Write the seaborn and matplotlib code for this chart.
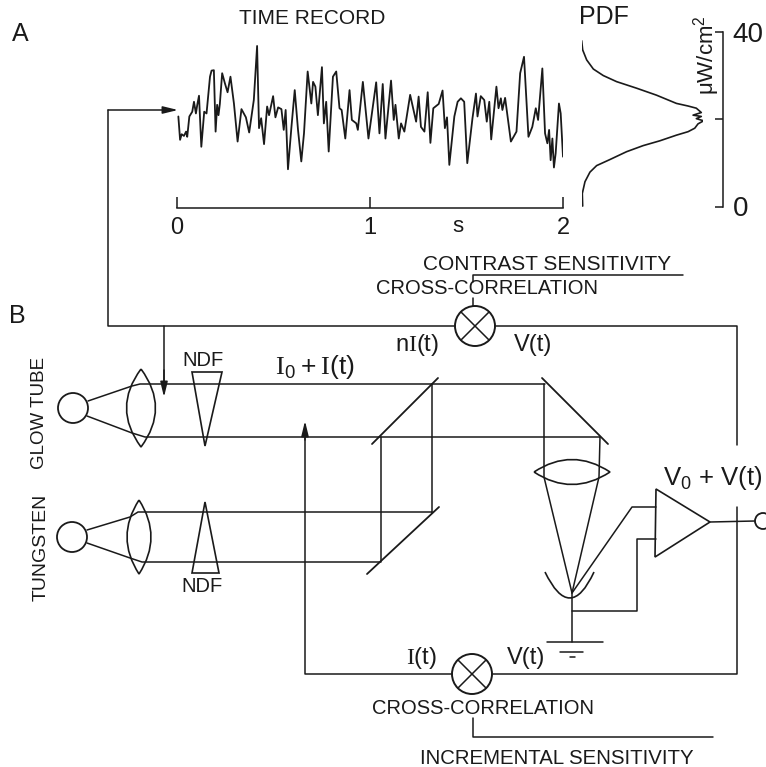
import matplotlib
matplotlib.use("Agg")
import matplotlib.pyplot as plt
import seaborn as sns
from matplotlib.patches import Circle, PathPatch, Polygon
from matplotlib.path import Path

# time record, seconds / uW per cm2
time_s = [0.007, 0.016, 0.024, 0.036, 0.047, 0.053, 0.064, 0.079, 0.088, 0.098, 0.105, 0.114, 0.126, 0.141, 0.153,
          0.171, 0.179, 0.191, 0.200, 0.208, 0.215, 0.222, 0.234, 0.248, 0.262, 0.277, 0.295, 0.314, 0.334, 0.357,
          0.374, 0.398, 0.415, 0.425, 0.436, 0.451, 0.467, 0.477, 0.498, 0.510, 0.524, 0.541, 0.553, 0.563, 0.575,
          0.593, 0.610, 0.627, 0.644, 0.658, 0.677, 0.696, 0.705, 0.717, 0.730, 0.751, 0.761, 0.773, 0.786, 0.808,
          0.825, 0.842, 0.853, 0.872, 0.894, 0.906, 0.929, 0.937, 0.963, 0.992, 1.032, 1.049, 1.066, 1.080, 1.109,
          1.123, 1.132, 1.149, 1.161, 1.178, 1.208, 1.239, 1.252, 1.264, 1.282, 1.299, 1.313, 1.328, 1.356, 1.376,
          1.388, 1.399, 1.411, 1.437, 1.454, 1.471, 1.488, 1.504, 1.531, 1.549, 1.557, 1.574, 1.592, 1.605, 1.618,
          1.628, 1.655, 1.666, 1.678, 1.686, 1.700, 1.730, 1.759, 1.778, 1.798, 1.821, 1.841, 1.859, 1.871, 1.893,
          1.907, 1.919, 1.928, 1.936, 1.945, 1.953, 1.962, 1.979, 1.988, 2.000]
level = [20.7, 15.3, 16.6, 16.2, 17.2, 16.0, 20.7, 21.8, 24.1, 21.4, 23.4, 25.5, 13.7, 21.8, 21.4,
         29.9, 31.3, 31.4, 17.2, 23.4, 21.0, 23.6, 30.7, 28.4, 26.3, 29.9, 23.7, 14.9, 22.4, 20.5,
         17.0, 24.5, 37.0, 18.0, 20.3, 14.3, 23.0, 21.0, 25.4, 20.5, 22.8, 22.4, 17.6, 22.2, 8.5,
         18.3, 26.8, 17.6, 10.3, 16.8, 31.1, 23.7, 28.7, 27.6, 21.0, 32.1, 19.1, 24.1, 12.6, 29.9,
         31.1, 22.6, 22.2, 15.6, 26.8, 19.9, 19.1, 17.6, 28.7, 15.6, 28.6, 16.8, 28.2, 15.6, 29.0,
         19.9, 23.4, 15.6, 19.1, 17.2, 25.7, 19.5, 25.3, 18.3, 17.2, 26.3, 14.6, 22.6, 23.6, 26.7,
         18.0, 20.5, 9.5, 20.7, 24.1, 24.9, 24.1, 9.9, 20.3, 26.0, 20.7, 25.4, 24.5, 19.5, 24.1,
         15.4, 27.6, 22.6, 24.9, 22.2, 25.0, 14.9, 17.2, 30.7, 34.5, 16.0, 18.3, 22.6, 19.9, 31.8,
         16.8, 14.5, 17.6, 10.6, 15.6, 8.9, 12.2, 23.7, 21.4, 11.4]

# probability density of the same record (sideways)
pdf_density = [0, 0.008, 0.041, 0.096, 0.178, 0.288, 0.452, 0.616, 0.781, 0.877, 0.945, 0.986, 0.918, 0.986, 0.945,
               1.005, 0.959, 0.932, 0.877, 0.781, 0.644, 0.507, 0.370, 0.233, 0.123, 0.068, 0.027, 0.005, 0.008]
pdf_level = [38.1, 36.0, 33.7, 31.6, 30.1, 28.7, 27.2, 25.6, 23.7, 23.1, 22.6, 21.6, 21.0, 20.7, 20.2,
             19.7, 19.0, 18.0, 17.2, 16.4, 15.1, 14.0, 12.6, 10.8, 9.4, 7.9, 5.7, 3.0, 0.1]

time_ticks = [0, 1, 2]
time_tick_labels = ["0", "1", "2"]
level_ticks = [0, 20, 40]
level_tick_labels = ["0", "", "40"]

# schematic wiring, in picture pixels
wires = [
    [(108, 110), (108, 326), (455, 326)],
    [(164, 326), (164, 385)],
    [(495, 326), (737, 326), (737, 445)],
    [(737, 507), (737, 674), (492, 674)],
    [(452, 674), (305, 674), (305, 435)],
    [(473, 282), (473, 275), (683, 275)],
    [(473, 298), (473, 306)],
    [(473, 718), (473, 737), (713, 737)],
    [(656, 507), (632, 507), (572, 593), (572, 642)],
    [(656, 539), (637, 539), (637, 611), (572, 611)],
    [(710, 522), (755, 521)],
    [(547, 642), (603, 642)],
    [(560, 652), (583, 652)],
    [(570, 657), (575, 657)],
]
beams = [
    [(88, 401), (132, 386), (140, 384), (545, 384)],
    [(87, 416), (132, 433), (145, 437), (600, 437)],
    [(87, 530), (130, 517), (138, 512), (432, 512)],
    [(87, 543), (130, 558), (142, 562), (381, 562)],
    [(381, 437), (381, 561)],
    [(432, 384), (432, 513)],
    [(544, 384), (544, 477), (572, 593)],
    [(600, 437), (599, 477), (572, 593)],
]
mirrors = [
    [(372, 444), (438, 378)],
    [(367, 574), (439, 507)],
    [(542, 378), (608, 444)],
]
wedges = [
    [(192, 372), (222, 372), (205, 446)],
    [(192, 573), (219, 573), (205, 502)],
]
amplifier = [(656, 489), (710, 522), (655, 557)]
sources = [(73, 408, 15), (72, 537, 15), (763, 521, 8)]
mixers = [(475, 326, 20), (472, 674, 20)]
lenses = [(141, 408, 39, 14.5, True), (139, 537, 37, 12, True), (572, 472, 38, 12.5, False)]
arrows = [((108, 110), (178, 110)), ((164, 370), (164, 397)), ((305, 440), (305, 421))]

labels = [
    ("A", 20, 34, 18, 0),
    ("B", 17, 316, 18, 0),
    ("TIME RECORD", 312, 18, 15, 0),
    ("PDF", 604, 17, 18, 0),
    ("s", 458, 226, 16, 0),
    ("μW/cm$^2$", 707, 55, 16, 90),
    ("CONTRAST SENSITIVITY", 547, 265, 15, 0),
    ("CROSS-CORRELATION", 487, 289, 14.5, 0),
    ("CROSS-CORRELATION", 483, 708, 14.5, 0),
    ("INCREMENTAL SENSITIVITY", 557, 758, 14.7, 0),
    ("NDF", 203, 360, 14.5, 0),
    ("NDF", 202, 586, 14.5, 0),
    ("GLOW TUBE", 40, 413, 13.5, 90),
    ("TUNGSTEN", 41, 547, 14, 90),
    (r"$\mathrm{I}_0+\mathrm{I}(t)$", 315, 367, 19, 0),
    (r"n$\mathrm{I}(t)$", 417, 345, 17, 0),
    ("V(t)", 533, 345, 17, 0),
    (r"$\mathrm{I}(t)$", 421, 658, 17, 0),
    ("V(t)", 526, 658, 17, 0),
    ("V$_0$ + V(t)", 713, 478, 18.5, 0),
]

W, H = 766, 767
INK = "#1a1a1a"

sns.set_theme(style="white")
plt.rcParams["font.family"] = ["Liberation Sans", "DejaVu Sans"]
plt.rcParams["mathtext.fontset"] = "custom"
plt.rcParams["mathtext.rm"] = "Liberation Serif"
plt.rcParams["mathtext.default"] = "regular"


def sub_axes(fig, left, right, bottom, top):
    # axes placed by picture pixels
    ax = fig.add_axes([left / W, 1 - bottom / H, (right - left) / W, (bottom - top) / H])
    ax.patch.set_alpha(0)
    return ax


def draw_path(ax, points, lw=1.1):
    xs, ys = zip(*points)
    sns.lineplot(x=list(xs), y=list(ys), sort=False, estimator=None, color=INK, linewidth=lw, ax=ax, legend=False)


def lens_patch(cx, cy, half_long, half_wide, upright):
    if upright:
        verts = [(cx, cy - half_long), (cx + 2 * half_wide, cy), (cx, cy + half_long),
                 (cx - 2 * half_wide, cy), (cx, cy - half_long)]
    else:
        verts = [(cx - half_long, cy), (cx, cy - 2 * half_wide), (cx + half_long, cy),
                 (cx, cy + 2 * half_wide), (cx - half_long, cy)]
    codes = [Path.MOVETO, Path.CURVE3, Path.CURVE3, Path.CURVE3, Path.CURVE3]
    return PathPatch(Path(verts, codes), fill=False, edgecolor=INK, linewidth=1.2)


fig = plt.figure(figsize=(W / 100, H / 100), dpi=100)

# schematic
ax = fig.add_axes([0, 0, 1, 1])
for path in wires + beams:
    draw_path(ax, path)
for path in mirrors:
    draw_path(ax, path, lw=1.3)
for tri in wedges + [amplifier]:
    ax.add_patch(Polygon(tri, closed=True, fill=False, edgecolor=INK, linewidth=1.2))
for cx, cy, r in sources:
    ax.add_patch(Circle((cx, cy), r, fill=False, edgecolor=INK, linewidth=1.3))
for cx, cy, r in mixers:
    ax.add_patch(Circle((cx, cy), r, fill=False, edgecolor=INK, linewidth=1.4))
    d = r * 0.707
    draw_path(ax, [(cx - d, cy - d), (cx + d, cy + d)])
    draw_path(ax, [(cx - d, cy + d), (cx + d, cy - d)])
for item in lenses:
    ax.add_patch(lens_patch(*item))
# detector cup
ax.add_patch(PathPatch(Path([(545, 572), (570, 624), (594, 572)], [Path.MOVETO, Path.CURVE3, Path.CURVE3]),
                       fill=False, edgecolor=INK, linewidth=1.2))
for start, tip in arrows:
    ax.annotate("", xy=tip, xytext=start,
                arrowprops=dict(arrowstyle="-|>,head_length=0.9,head_width=0.22", color=INK, lw=1.1,
                                mutation_scale=10, shrinkA=0, shrinkB=0))
for text, x, y, size, rot in labels:
    ax.text(x, y, text, fontsize=size, rotation=rot, ha="center", va="center", color=INK)
ax.set_xlim(0, W)
ax.set_ylim(H, 0)
ax.set_xlabel("")
ax.set_ylabel("")
ax.axis("off")

# time record
ax_time = sub_axes(fig, 177, 563, 206, 33)
sns.lineplot(x=time_s, y=level, sort=False, estimator=None, color=INK, linewidth=1.3, ax=ax_time, legend=False)
ax_time.set_xlim(0, 2)
ax_time.set_ylim(0, 40)
ax_time.set_xlabel("")
ax_time.set_ylabel("")
ax_time.set_yticks([])
ax_time.set_xticks(time_ticks, time_tick_labels)
ax_time.tick_params(axis="x", direction="in", length=8, width=1.1, bottom=True, pad=6.5, labelsize=17,
                    color=INK, labelcolor=INK)
ax_time.xaxis.get_major_ticks()[1].tick1line.set_markersize(11)
for side in ["top", "left", "right"]:
    ax_time.spines[side].set_visible(False)
ax_time.spines["bottom"].set_position(("outward", 1.5))
ax_time.spines["bottom"].set_color(INK)
ax_time.spines["bottom"].set_linewidth(1.1)

# pdf
ax_pdf = sub_axes(fig, 581.7, 703, 206.5, 32.5)
sns.lineplot(x=pdf_density, y=pdf_level, sort=False, estimator=None, color=INK, linewidth=1.2, ax=ax_pdf, legend=False)
ax_pdf.set_xlim(0, 1)
ax_pdf.set_ylim(0, 40)
ax_pdf.set_xlabel("")
ax_pdf.set_ylabel("")
ax_pdf.set_xticks([])
ax_pdf.yaxis.tick_right()
ax_pdf.set_yticks(level_ticks, level_tick_labels, rotation=90, va="center")
ax_pdf.tick_params(axis="y", direction="in", length=6, width=1.1, right=True, pad=7, labelsize=20,
                   color=INK, labelcolor=INK)
for side in ["top", "left", "bottom"]:
    ax_pdf.spines[side].set_visible(False)
ax_pdf.spines["right"].set_position(("outward", 14.5))
ax_pdf.spines["right"].set_color(INK)
ax_pdf.spines["right"].set_linewidth(1.1)

fig.savefig("out.png", dpi=100)
